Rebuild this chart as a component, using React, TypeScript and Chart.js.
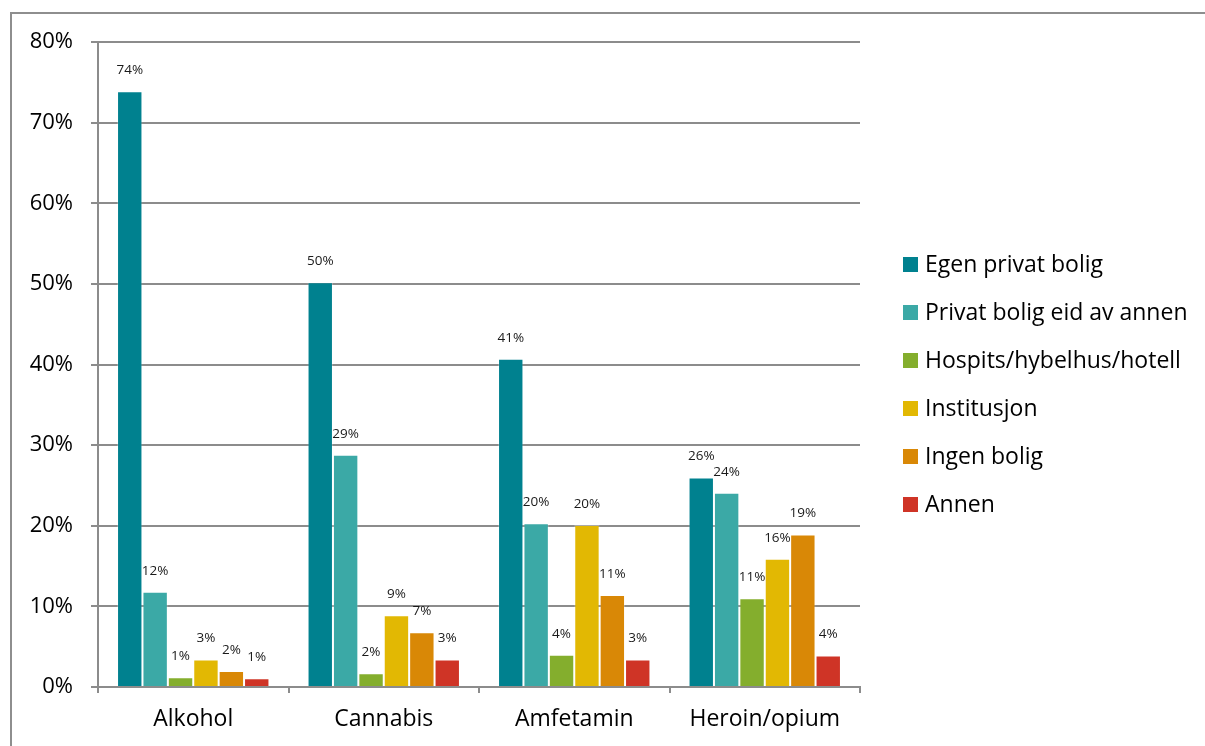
import React, { useEffect, useRef } from "react";
import { Chart, registerables } from "chart.js";

Chart.register(...registerables);

const categories = ["Alkohol", "Cannabis", "Amfetamin", "Heroin/opium"];

const seriesNames = [
  "Egen privat bolig",
  "Privat bolig eid av annen",
  "Hospits/hybelhus/hotell",
  "Institusjon",
  "Ingen bolig",
  "Annen",
];

const egenPrivatBolig = [73.9, 50.2, 40.7, 26.0];
const privatBoligEidAvAnnen = [11.8, 28.8, 20.3, 24.1];
const hospits = [1.2, 1.7, 4.0, 11.0];
const institusjon = [3.4, 8.9, 20.1, 15.9];
const ingenBolig = [2.0, 6.8, 11.4, 18.9];
const annen = [1.1, 3.4, 3.4, 3.9];

const seriesValues = [egenPrivatBolig, privatBoligEidAvAnnen, hospits, institusjon, ingenBolig, annen];
const seriesColors = ["#00818F", "#3BA9A6", "#84AE2D", "#E2B803", "#D98806", "#CF3426"];

const yTicks = [0, 10, 20, 30, 40, 50, 60, 70, 80];

const FONT = "'Open Sans', 'Noto Sans', sans-serif";
const GRID = "#8c8c8c";

// Value labels above each bar
const barLabels = {
  id: "barLabels",
  afterDatasetsDraw(chart: any) {
    const ctx = chart.ctx;
    ctx.save();
    ctx.font = `13.5px ${FONT}`;
    ctx.fillStyle = "#1a1a1a";
    ctx.textAlign = "center";
    ctx.textBaseline = "middle";
    chart.data.datasets.forEach((ds: any, i: number) => {
      const meta = chart.getDatasetMeta(i);
      meta.data.forEach((bar: any, j: number) => {
        const v = ds.data[j];
        ctx.fillText(`${Math.round(v)}%`, bar.x, bar.y - 21);
      });
    });
    ctx.restore();
  },
};

// Legend list to the right of the plot
const sideLegend = {
  id: "sideLegend",
  afterDraw(chart: any) {
    const ctx = chart.ctx;
    ctx.save();
    ctx.font = `23px ${FONT}`;
    ctx.textAlign = "left";
    ctx.textBaseline = "middle";
    const x0 = 903;
    const y0 = 264;
    const step = 48;
    chart.data.datasets.forEach((ds: any, i: number) => {
      const y = y0 + i * step;
      ctx.fillStyle = ds.backgroundColor;
      ctx.fillRect(x0, y - 7, 15, 15);
      ctx.fillStyle = "#000";
      ctx.fillText(ds.label, x0 + 22, y + 1);
    });
    ctx.restore();
  },
};

// Outer frame line (top and left edges)
const frame = {
  id: "frame",
  beforeDraw(chart: any) {
    const ctx = chart.ctx;
    ctx.save();
    ctx.strokeStyle = "#8e8e8e";
    ctx.lineWidth = 2;
    ctx.beginPath();
    ctx.moveTo(11, chart.height);
    ctx.lineTo(11, 13);
    ctx.lineTo(chart.width, 13);
    ctx.stroke();
    ctx.restore();
  },
};

export default function App() {
  const ref = useRef<HTMLCanvasElement | null>(null);

  useEffect(() => {
    if (!ref.current) return;
    const chart = new Chart(ref.current, {
      type: "bar",
      data: {
        labels: categories,
        datasets: seriesNames.map((name, i) => ({
          label: name,
          data: seriesValues[i],
          backgroundColor: seriesColors[i],
          borderColor: "rgba(255,255,255,0.25)",
          borderWidth: 1,
          categoryPercentage: 0.8,
          barPercentage: 1,
        })),
      },
      options: {
        animation: false,
        responsive: false,
        maintainAspectRatio: false,
        layout: { padding: { left: 0, top: 42, right: 345, bottom: 0 } },
        plugins: {
          legend: { display: false },
          tooltip: { enabled: false },
        },
        scales: {
          x: {
            grid: {
              offset: true,
              drawOnChartArea: false,
              drawTicks: true,
              tickLength: 6,
              color: GRID,
              lineWidth: 2,
            },
            border: { color: GRID, width: 2 },
            ticks: {
              font: { family: FONT, size: 23 },
              color: "#000",
              padding: 13,
            },
            afterFit(scale: any) {
              scale.height = 59;
            },
          },
          y: {
            min: 0,
            max: 80,
            afterBuildTicks(scale: any) {
              scale.ticks = yTicks.map((v) => ({ value: v }));
            },
            grid: {
              color: GRID,
              lineWidth: 2,
              tickLength: 7,
            },
            border: { color: GRID, width: 2 },
            ticks: {
              font: { family: FONT, size: 22 },
              color: "#000",
              padding: 18,
              callback: (v: any) => `${v}%`,
            },
            afterFit(scale: any) {
              scale.width = 98;
            },
          },
        },
      },
      plugins: [frame, barLabels, sideLegend],
    });
    return () => chart.destroy();
  }, []);

  return (
    <div style={{ position: "fixed", left: 0, top: 0, width: 1205, height: 746, background: "#fff" }}>
      <canvas ref={ref} width={1205} height={746} style={{ display: "block" }} />
    </div>
  );
}
